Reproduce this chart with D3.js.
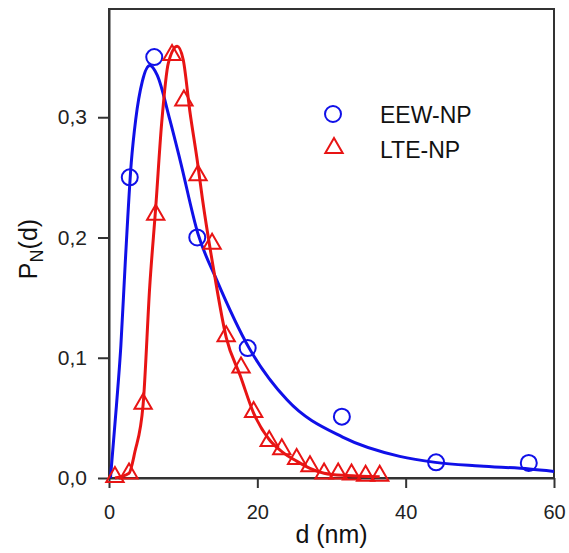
<!DOCTYPE html>
<html lang="en">
<head>
  <meta charset="UTF-8">
  <title>PN(d)</title>
  <style>
    body { margin: 0; background: #fff; }
    svg { font-family: 'Liberation Sans', Arial, sans-serif; }
  </style>
</head>
<body>
  <svg id="svg" width="569" height="553"></svg>

  <script src="https://d3js.org/d3.v7.min.js"></script>
  <script>
    // measured points (d in nm, PN)
    const eewD = [2.8, 6.1, 11.9, 18.7, 31.4, 44.1, 56.6]
    const eewP = [0.250, 0.350, 0.200, 0.108, 0.051, 0.013, 0.0125]

    const lteD = [0.8, 2.7, 4.6, 6.3, 8.5, 10.1, 12.0, 13.9, 15.8, 17.8, 19.5, 21.6, 23.3, 25.3, 27.1, 29.0, 30.9, 32.7, 34.6, 36.5]
    const lteP = [0.0, 0.003, 0.061, 0.218, 0.351, 0.313, 0.251, 0.194, 0.117, 0.091, 0.054, 0.030, 0.023, 0.015, 0.009, 0.003, 0.003, 0.002, 0.001, 0.001]

    // fitted curves
    const eewFitD = [0.2, 1.0, 1.6, 2.2, 3.0, 3.6, 4.5, 5.5, 6.5, 8.2, 9.6, 12.0, 14.5, 18.9, 24.0, 31.5, 39.2, 44.0, 50.0, 56.7, 60.0]
    const eewFitP = [0.0, 0.06, 0.11, 0.18, 0.262, 0.298, 0.33, 0.343, 0.335, 0.298, 0.264, 0.203, 0.165, 0.108, 0.065, 0.034, 0.018, 0.013, 0.0100, 0.0075, 0.0055]

    const lteFitD = [0.8, 2.7, 3.5, 4.6, 5.5, 6.3, 7.1, 8.0, 9.2, 10.0, 10.9, 11.9, 12.6, 14.2, 15.8, 17.7, 19.5, 21.6, 23.3, 25.3, 27.1, 29.0, 32.0, 36.5]
    const lteFitP = [0.0, 0.004, 0.022, 0.061, 0.16, 0.225, 0.295, 0.345, 0.359, 0.348, 0.305, 0.264, 0.232, 0.17, 0.117, 0.085, 0.054, 0.032, 0.022, 0.014, 0.008, 0.004, 0.002, 0.001]

    const xTicks = [0, 20, 40, 60]
    const yTicks = [0, 0.1, 0.2, 0.3]

    const blue = '#1010e8'
    const red = '#e81414'

    const margin = { top: 9, right: 15, bottom: 75, left: 109 }
    const width = 569 - margin.left - margin.right
    const height = 553 - margin.top - margin.bottom

    const svg = d3.select('#svg')
    const g = svg.append('g').attr('transform', `translate(${margin.left},${margin.top})`)

    const xScale = d3.scaleLinear().domain([0, 60]).range([0, width])
    const yScale = d3.scaleLinear().domain([0, 0.39]).range([height, 0])

    const pts = (xs, ys) => xs.map((d, i) => ({ d: d, p: ys[i] }))

    // frame
    g.append('rect')
      .attr('width', width)
      .attr('height', height)
      .attr('fill', 'none')
      .attr('stroke', '#333')
      .attr('stroke-width', 2)

    // axes
    const xAxis = g.append('g')
      .attr('transform', `translate(0,${height})`)
      .call(d3.axisBottom(xScale).tickValues(xTicks).tickSize(10).tickPadding(17).tickSizeOuter(0))
    const yAxis = g.append('g')
      .call(d3.axisLeft(yScale).tickValues(yTicks).tickSize(11).tickPadding(11).tickSizeOuter(0)
        .tickFormat(d => d3.format('.1f')(d).replace('.', ',')))

    ;[xAxis, yAxis].forEach(a => {
      a.select('.domain').attr('stroke', '#333').attr('stroke-width', 2)
      a.selectAll('.tick line').attr('stroke', '#333').attr('stroke-width', 2)
      a.selectAll('.tick text').attr('fill', '#222').style('font-size', '20px')
        .style('font-family', "'Liberation Sans', Arial, sans-serif")
    })
    yAxis.selectAll('.tick text').style('font-size', '21px')

    // curves
    const line = d3.line()
      .x(d => xScale(d.d))
      .y(d => yScale(d.p))
      .curve(d3.curveMonotoneX)

    g.append('path')
      .datum(pts(eewFitD, eewFitP))
      .attr('d', line)
      .attr('fill', 'none')
      .attr('stroke', blue)
      .attr('stroke-width', 3)

    g.append('path')
      .datum(pts(lteFitD, lteFitP))
      .attr('d', line)
      .attr('fill', 'none')
      .attr('stroke', red)
      .attr('stroke-width', 3)

    // markers
    g.selectAll('circle.eew')
      .data(pts(eewD, eewP))
      .enter()
      .append('circle')
      .attr('class', 'eew')
      .attr('cx', d => xScale(d.d))
      .attr('cy', d => yScale(d.p))
      .attr('r', 8)
      .attr('fill', 'none')
      .attr('stroke', blue)
      .attr('stroke-width', 2)

    const tri = d3.symbol().type(d3.symbolTriangle).size(130)
    g.selectAll('path.lte')
      .data(pts(lteD, lteP))
      .enter()
      .append('path')
      .attr('class', 'lte')
      .attr('d', tri)
      .attr('transform', d => `translate(${xScale(d.d)},${yScale(d.p) - 1})`)
      .attr('fill', 'none')
      .attr('stroke', red)
      .attr('stroke-width', 2)

    // legend
    svg.append('circle')
      .attr('cx', 333).attr('cy', 114).attr('r', 8)
      .attr('fill', 'none').attr('stroke', blue).attr('stroke-width', 2)
    svg.append('path')
      .attr('d', tri)
      .attr('transform', 'translate(334,148)')
      .attr('fill', 'none').attr('stroke', red).attr('stroke-width', 2)
    svg.append('text').attr('x', 380).attr('y', 123).text('EEW-NP')
      .style('font-size', '23px').attr('fill', '#111')
    svg.append('text').attr('x', 380).attr('y', 158).text('LTE-NP')
      .style('font-size', '23px').attr('fill', '#111')

    // axis titles
    svg.append('text')
      .attr('x', margin.left + width / 2)
      .attr('y', 543)
      .attr('text-anchor', 'middle')
      .style('font-size', '25px')
      .attr('fill', '#111')
      .text('d (nm)')

    const yt = svg.append('text')
      .attr('transform', 'translate(37,249) rotate(-90)')
      .attr('text-anchor', 'middle')
      .style('font-size', '25px')
      .attr('fill', '#111')
    yt.append('tspan').text('P')
    yt.append('tspan').attr('dy', 6).style('font-size', '18px').text('N')
    yt.append('tspan').attr('dy', -6).text('(d)')
  </script>
</body>
</html>
